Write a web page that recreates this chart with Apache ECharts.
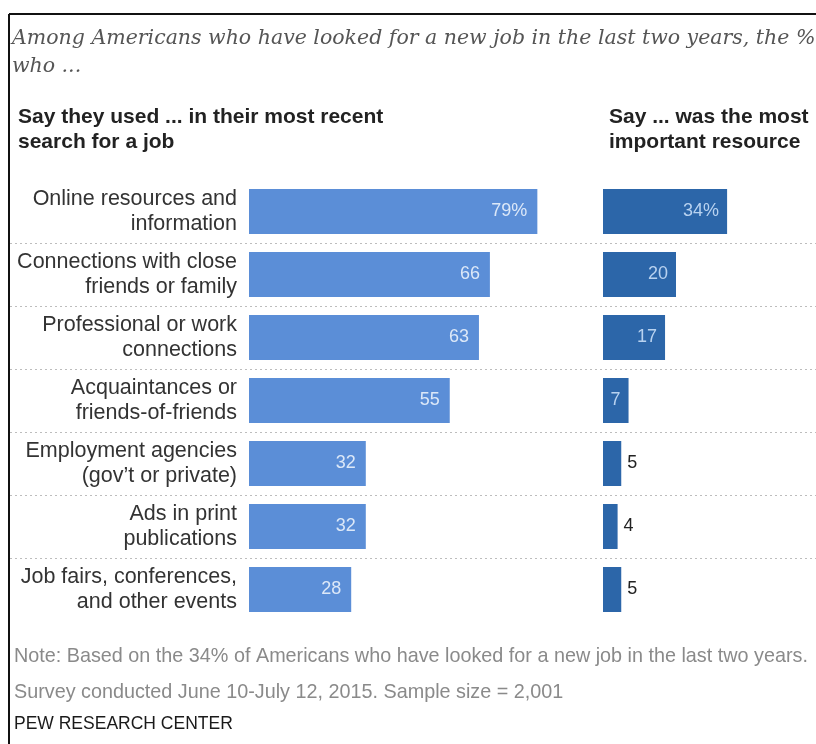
<!DOCTYPE html>
<html>
<head>
<meta charset="utf-8">
<script src="https://cdn.jsdelivr.net/npm/echarts@6/dist/echarts.min.js"></script>
<style>
html,body{margin:0;padding:0;background:#fff;}
#chart{width:816px;height:744px;}
</style>
</head>
<body>
<div id="chart"></div>
<script>
// ---- data ----
const categories = [
  'Online resources and\ninformation',
  'Connections with close\nfriends or family',
  'Professional or work\nconnections',
  'Acquaintances or\nfriends-of-friends',
  'Employment agencies\n(gov\u2019t or private)',
  'Ads in print\npublications',
  'Job fairs, conferences,\nand other events'
];
const usedValues = [79, 66, 63, 55, 32, 32, 28];
const mostImportantValues = [34, 20, 17, 7, 5, 4, 5];

const titleLine = 'Among Americans who have looked for a new job in the last two years, the %\nwho ...';
const leftHeader = 'Say they used ... in their most recent\nsearch for a job';
const rightHeader = 'Say ... was the most\nimportant resource';
const noteText = 'Note: Based on the 34% of Americans who have looked for a new job in the last two years.';
const surveyText = 'Survey conducted June 10-July 12, 2015. Sample size = 2,001';
const sourceText = 'PEW RESEARCH CENTER';

// ---- style ----
const SANS = '"Liberation Sans Narrow", "Liberation Sans", Arial, sans-serif';
const LIGHT = '#5b8ed7';
const DARK = '#2c66a9';
const PX_PER_UNIT = 3.65;
const GRID_TOP = 180, ROW = 63, N = categories.length;
const GRID_H = ROW * N;

const chart = echarts.init(document.getElementById('chart'), null, {renderer: 'canvas'});

const fmt = p => p.dataIndex === 0 ? p.value + '%' : String(p.value);

const rightData = mostImportantValues.map(v => v <= 5
  ? {value: v, label: {position: 'right', distance: 6, color: '#222', fontSize: 18}}
  : {value: v});

const option = {
  backgroundColor: '#fff',
  animation: false,
  title: [
    {text: titleLine, left: 7, top: 20,
     textStyle: {fontFamily: '"DejaVu Serif", Georgia, serif', fontStyle: 'italic', fontWeight: 'normal', fontSize: 20.5, color: '#555', lineHeight: 28}},
    {text: leftHeader, left: 13, top: 100,
     textStyle: {fontFamily: SANS, fontWeight: 'bold', fontSize: 21, color: '#222', lineHeight: 25}},
    {text: rightHeader, left: 604, top: 100,
     textStyle: {fontFamily: SANS, fontWeight: 'bold', fontSize: 21, color: '#222', lineHeight: 25}},
    {text: noteText, left: 9, top: 642,
     textStyle: {fontFamily: SANS, fontWeight: 'normal', fontSize: 19.8, color: '#8a8a8a'}},
    {text: surveyText, left: 9, top: 678,
     textStyle: {fontFamily: SANS, fontWeight: 'normal', fontSize: 19.8, color: '#8a8a8a'}},
    {text: sourceText, left: 9, top: 710,
     textStyle: {fontFamily: SANS, fontWeight: 'normal', fontSize: 17.5, color: '#1a1a1a'}}
  ],
  graphic: [
    {type: 'line', shape: {x1: 9, y1: 14, x2: 816, y2: 14}, style: {stroke: '#111', lineWidth: 2}},
    {type: 'line', shape: {x1: 9, y1: 14, x2: 9, y2: 744}, style: {stroke: '#111', lineWidth: 2}}
  ],
  grid: [
    {left: 249, top: GRID_TOP, width: 80 * PX_PER_UNIT, height: GRID_H, containLabel: false},
    {left: 603, top: GRID_TOP, width: 40 * PX_PER_UNIT, height: GRID_H, containLabel: false},
    {left: 10, right: 0, top: GRID_TOP, height: GRID_H, containLabel: false}
  ],
  xAxis: [
    {type: 'value', gridIndex: 0, min: 0, max: 80, show: false},
    {type: 'value', gridIndex: 1, min: 0, max: 40, show: false},
    {type: 'value', gridIndex: 2, min: 0, max: 1, show: false}
  ],
  yAxis: [
    {type: 'category', gridIndex: 0, data: categories, inverse: true,
     axisLine: {show: false}, axisTick: {show: false}, splitLine: {show: false},
     axisLabel: {margin: 12, align: 'right', fontFamily: SANS, fontSize: 21.5, color: '#333', lineHeight: 25}},
    {type: 'category', gridIndex: 1, data: categories, inverse: true,
     axisLine: {show: false}, axisTick: {show: false}, splitLine: {show: false}, axisLabel: {show: false}},
    {type: 'value', gridIndex: 2, min: 0, max: N, interval: 1, inverse: true,
     axisLine: {show: false}, axisTick: {show: false}, axisLabel: {show: false},
     splitLine: {show: true, showMinLine: false, showMaxLine: false,
       lineStyle: {type: [2, 3], color: '#bdbdbd', width: 1}}}
  ],
  series: [
    {type: 'bar', xAxisIndex: 0, yAxisIndex: 0, data: usedValues, barWidth: 45,
     itemStyle: {color: LIGHT},
     label: {show: true, position: 'insideRight', distance: 10, formatter: fmt,
       fontFamily: SANS, fontSize: 18, color: '#dce8f8'}},
    {type: 'bar', xAxisIndex: 1, yAxisIndex: 1, data: rightData, barWidth: 45,
     itemStyle: {color: DARK},
     label: {show: true, position: 'insideRight', distance: 8, formatter: fmt,
       fontFamily: SANS, fontSize: 18, color: '#b8d2f0'}}
  ]
};
chart.setOption(option);
</script>
</body>
</html>
